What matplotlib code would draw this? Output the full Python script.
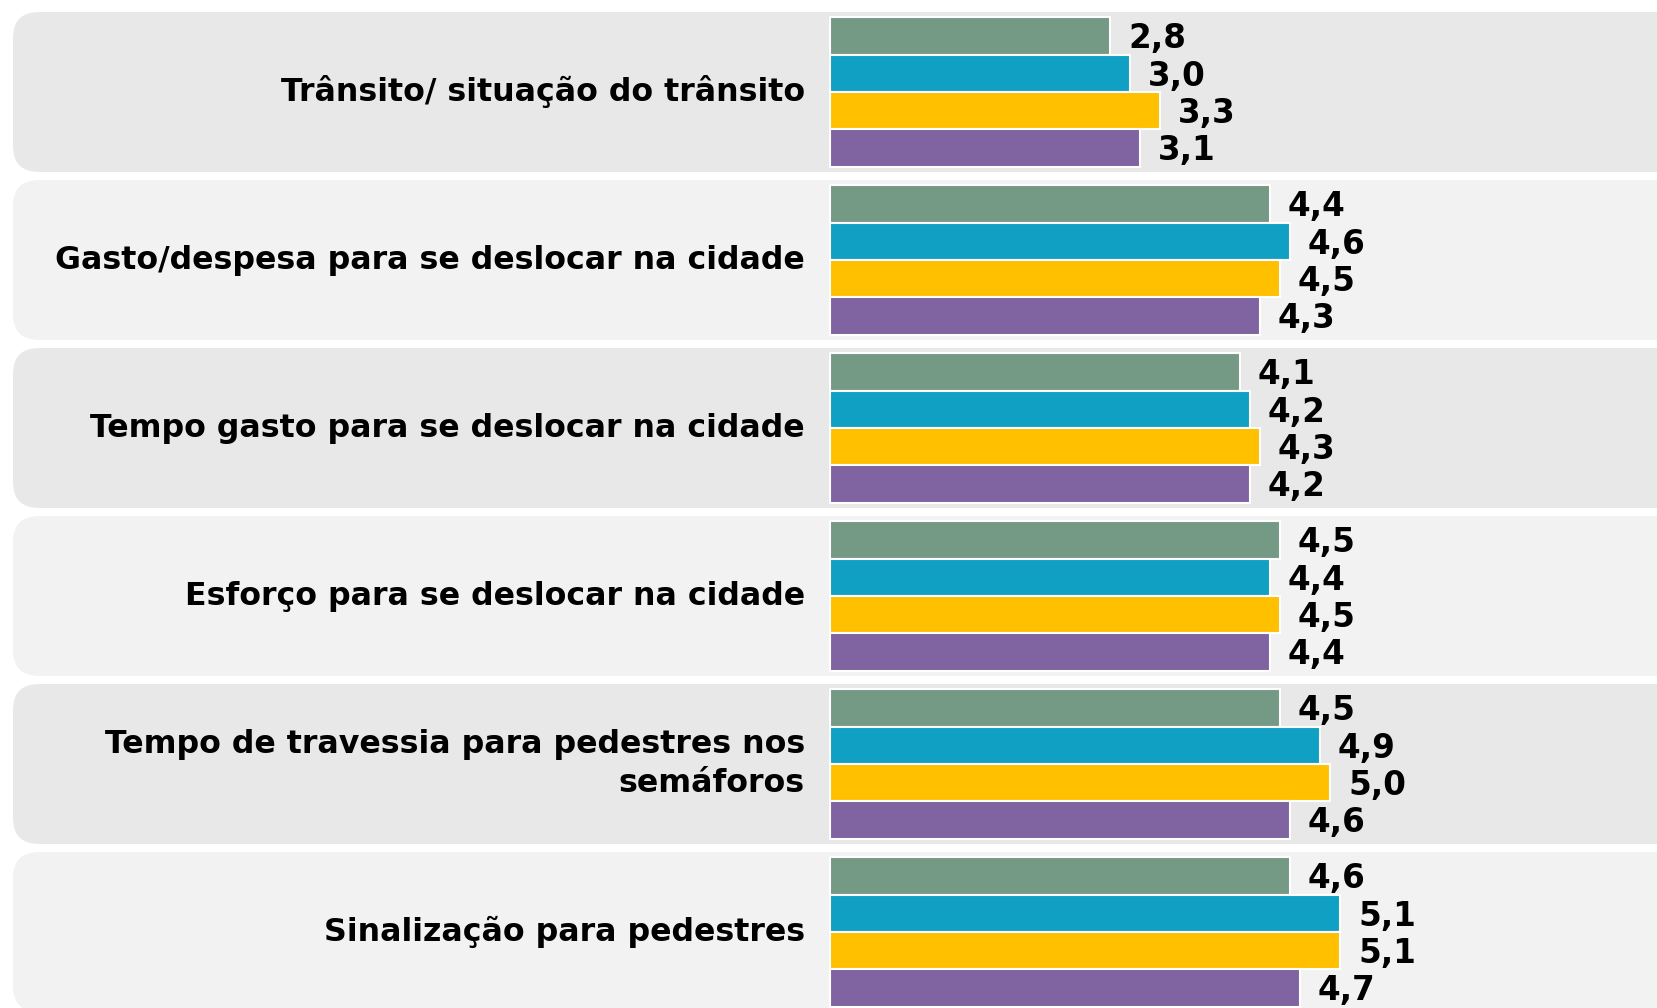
import matplotlib.pyplot as plt
from matplotlib.patches import FancyBboxPatch
from matplotlib.transforms import IdentityTransform

# categories (top to bottom)
categories = [
    "Trânsito/ situação do trânsito",
    "Gasto/despesa para se deslocar na cidade",
    "Tempo gasto para se deslocar na cidade",
    "Esforço para se deslocar na cidade",
    "Tempo de travessia para pedestres nos\nsemáforos",
    "Sinalização para pedestres",
]

# four series, one bar each per category
serie_1 = [2.8, 4.4, 4.1, 4.5, 4.5, 4.6]
serie_2 = [3.0, 4.6, 4.2, 4.4, 4.9, 5.1]
serie_3 = [3.3, 4.5, 4.3, 4.5, 5.0, 5.1]
serie_4 = [3.1, 4.3, 4.2, 4.4, 4.6, 4.7]

series = [serie_1, serie_2, serie_3, serie_4]
colors = ["#749985", "#10A0C4", "#FFC000", "#8064A2"]
panel_colors = ["#E8E8E8", "#F2F2F2"]

W, H = 1657, 1008
fig = plt.figure(figsize=(W / 100, H / 100), dpi=100)
ax = fig.add_axes([0, 0, 1, 1])
ax.axis("off")

# x: 0 at pixel 830, 100 px per unit; y: group pitch 168 px, first centre at 92 px
ax.set_xlim(-8.30, (W - 830) / 100)
ax.set_ylim((H - 92) / 168, -92 / 168)

bar_h = 0.222
fig.canvas.draw()

# rounded background panels (left corners rounded, right runs off the edge)
for i in range(len(categories)):
    _, yc = ax.transData.transform((0, i))
    top = yc + 80
    bot = yc - 80
    p = FancyBboxPatch((13, bot), W + 60, top - bot,
                       boxstyle="round,pad=0,rounding_size=26",
                       transform=IdentityTransform(),
                       facecolor=panel_colors[i % 2], edgecolor="none",
                       zorder=-5)
    fig.patches.append(p)

for k, (vals, c) in enumerate(zip(series, colors)):
    ypos = [i + (k - 1.5) * bar_h for i in range(len(categories))]
    ax.barh(ypos, vals, height=bar_h, color=c, edgecolor="white",
            linewidth=1.5, zorder=2)
    for y, v in zip(ypos, vals):
        ax.annotate(f"{v:.1f}".replace(".", ","), (v, y), xytext=(13, -2),
                    textcoords="offset points", ha="left", va="center",
                    fontsize=23.5, fontweight="bold", color="black",
                    family="DejaVu Sans")

for i, lab in enumerate(categories):
    ax.annotate(lab, (0, i), xytext=(-18, 0), textcoords="offset points",
                ha="right", va="center", multialignment="right",
                fontsize=22.8, fontweight="bold", color="black",
                family="DejaVu Sans", linespacing=1.35)

fig.savefig("out.png", dpi=100, facecolor="white")
